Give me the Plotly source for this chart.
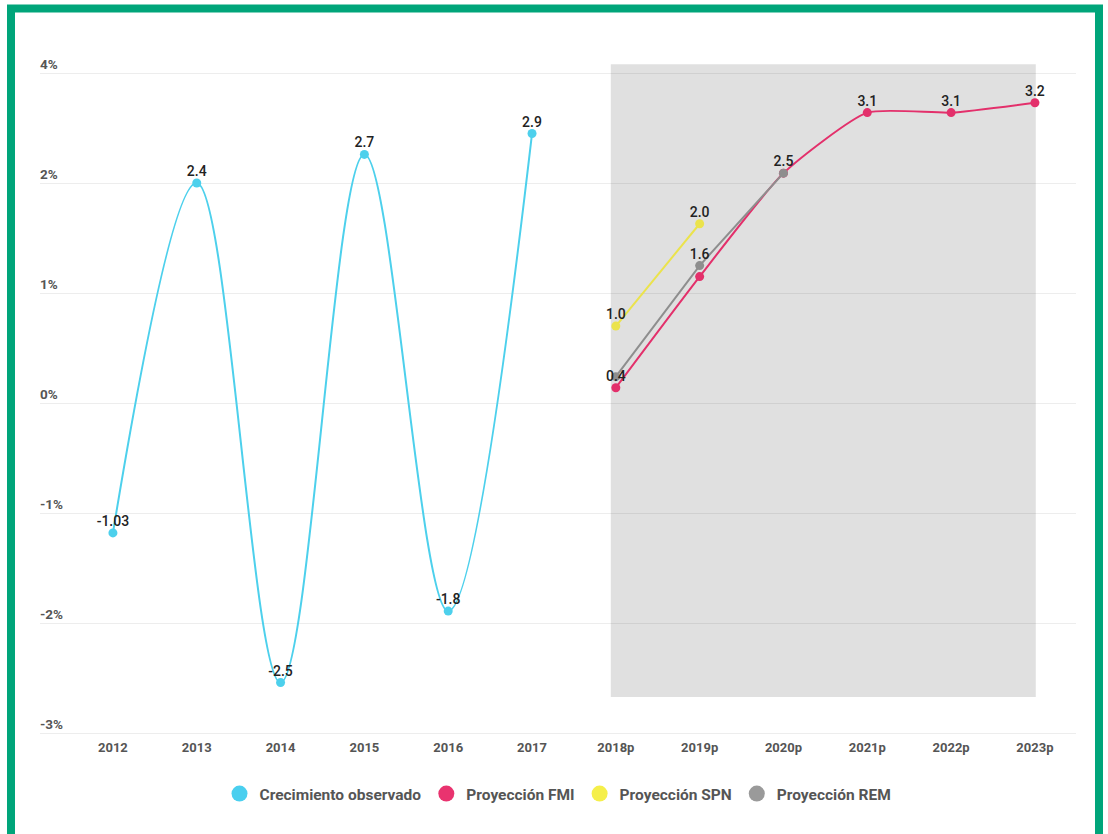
import plotly.graph_objects as go

# ---- data ----
years = ["2012", "2013", "2014", "2015", "2016", "2017",
         "2018p", "2019p", "2020p", "2021p", "2022p", "2023p"]

obs_x = ["2012", "2013", "2014", "2015", "2016", "2017"]
obs_y = [-1.18, 2.0, -2.54, 2.26, -1.89, 2.45]
obs_labels = ["-1.03", "2.4", "-2.5", "2.7", "-1.8", "2.9"]

fmi_x = ["2018p", "2019p", "2020p", "2021p", "2022p", "2023p"]
fmi_y = [0.14, 1.15, 2.09, 2.64, 2.64, 2.73]
fmi_labels = ["0.4", "", "", "3.1", "3.1", "3.2"]

spn_x = ["2018p", "2019p"]
spn_y = [0.70, 1.63]
spn_labels = ["1.0", "2.0"]

rem_x = ["2018p", "2019p", "2020p"]
rem_y = [0.24, 1.25, 2.09]
rem_labels = ["", "1.6", "2.5"]

y_tickvals = [-3, -2, -1, 0, 1, 2, 3]
y_ticktext = ["-3%", "-2%", "-1%", "0%", "1%", "2%", "4%"]

# ---- style ----
C_OBS = "#4dd0ec"
C_FMI = "#e3306b"
C_SPN = "#ebe34c"
C_REM = "#8e8e8e"
L_OBS = "#4acfef"
L_FMI = "#e9336f"
L_SPN = "#f5ef4a"
L_REM = "#9a9a9a"
GREEN = "#00a57a"

W, H = 1108, 834
ML, MR, MT, MB = 40, 32, 51, 92
PW, PH = W - ML - MR, H - MT - MB


def px_x(p):
    return (p - ML) / PW


def px_y(p):
    return (H - MB - p) / PH


label_font = dict(family="Roboto", size=14, color="#222222", weight=500)

fig = go.Figure()


def add_series(x, y, labels, color, shape, smoothing=1.0):
    line = dict(color=color, width=2, shape=shape)
    if shape == "spline":
        line["smoothing"] = smoothing
    fig.add_trace(go.Scatter(
        x=x, y=y, mode="lines+markers",
        line=line, marker=dict(size=9, color=color),
        showlegend=False, cliponaxis=False, hoverinfo="skip",
    ))
    return (x, y, labels)


text_sets = [
    add_series(obs_x, obs_y, obs_labels, C_OBS, "spline", 1.0),
    add_series(fmi_x, fmi_y, fmi_labels, C_FMI, "spline", 0.55),
    add_series(spn_x, spn_y, spn_labels, C_SPN, "linear"),
    add_series(rem_x, rem_y, rem_labels, C_REM, "linear"),
]

for x, y, labels in text_sets:
    fig.add_trace(go.Scatter(
        x=x, y=y, text=labels, mode="markers+text", textposition="top center",
        marker=dict(size=4, opacity=0),
        textfont=label_font, showlegend=False, cliponaxis=False, hoverinfo="skip",
    ))

for name, col in [("Crecimiento observado", L_OBS), ("Proyección FMI", L_FMI),
                  ("Proyección SPN", L_SPN), ("Proyección REM", L_REM)]:
    fig.add_trace(go.Scatter(x=[None], y=[None], mode="markers", name=name,
                             marker=dict(size=18, color=col)))

shapes = [
    # shaded projection region
    dict(type="rect", xref="x", yref="y", x0=5.94, x1=11.01, y0=-2.67, y1=3.08,
         fillcolor="#e0e0e0", line=dict(width=0), layer="below"),
    # green frame
    dict(type="rect", xref="paper", yref="paper",
         x0=px_x(11), x1=px_x(1099), y0=px_y(8.5), y1=px_y(900),
         line=dict(color=GREEN, width=8), fillcolor="rgba(0,0,0,0)", layer="above"),
]

fig.update_layout(
    width=W, height=H,
    margin=dict(l=ML, r=MR, t=MT, b=MB, pad=0),
    paper_bgcolor="white", plot_bgcolor="white",
    font=dict(family="Roboto", color="#555555"),
    shapes=shapes,
    showlegend=True,
    legend=dict(orientation="h", x=0.5, xanchor="center", y=px_y(794), yanchor="middle",
                font=dict(family="Roboto", size=15.5, color="#555555", weight=700),
                itemsizing="trace", bgcolor="rgba(0,0,0,0)", tracegroupgap=0),
    xaxis=dict(type="category", categoryorder="array", categoryarray=years,
               range=[-0.87, 11.49], showgrid=False, zeroline=False, showline=False,
               ticks="", ticklabelstandoff=-4,
               tickfont=dict(family="Roboto", size=13, color="#555555", weight=700)),
    yaxis=dict(range=[-3.08, 3.2], tickvals=y_tickvals, ticktext=y_ticktext,
               showgrid=True, gridcolor="rgba(0,0,0,0.07)", gridwidth=1,
               zeroline=False, showline=False, ticks="",
               ticklabelposition="inside top", ticklabelshift=1, ticklabelstandoff=-3,
               tickfont=dict(family="Roboto", size=13.5, color="#555555", weight=700)),
)

fig.write_html("out.html")
